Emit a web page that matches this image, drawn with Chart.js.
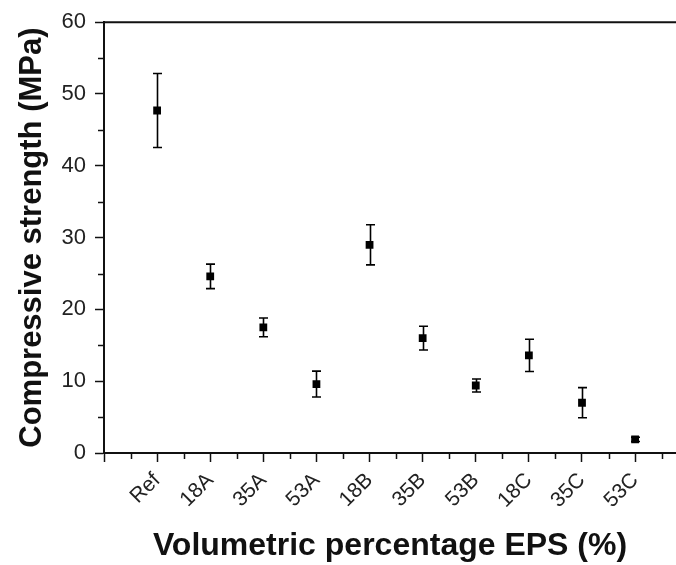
<!DOCTYPE html>
<html>
<head>
<meta charset="utf-8">
<script src="https://cdn.jsdelivr.net/npm/chart.js@4.4.1/dist/chart.umd.min.js"></script>
<style>
  html, body { margin: 0; padding: 0; background: #fff; }
  #wrap { width: 676px; height: 565px; }
</style>
</head>
<body>
<div id="wrap"><canvas id="strengthChart" width="676" height="565"></canvas></div>
<script>
// mixes along the x axis, mean strength and error (MPa)
var mixes = ["Ref", "18A", "35A", "53A", "18B", "35B", "53B", "18C", "35C", "53C"];
var strength = [47.7, 24.6, 17.5, 9.6, 29.0, 16.0, 9.4, 13.6, 7.0, 1.9];
var strengthErr = [5.15, 1.7, 1.3, 1.8, 2.8, 1.65, 0.9, 2.25, 2.1, 0.3];
var yTicks = [0, 10, 20, 30, 40, 50, 60];

var FONT = "'Liberation Sans', Arial, sans-serif";

var points = strength.map(function (v, i) {
  return { x: i + 1, y: v };
});

// vertical error bars with caps, drawn under the markers
var errorBars = {
  id: "errorBars",
  beforeDatasetsDraw: function (chart) {
    var ctx = chart.ctx;
    var xs = chart.scales.x;
    var ys = chart.scales.y;
    ctx.save();
    ctx.strokeStyle = "#000";
    ctx.lineWidth = 1.6;
    strength.forEach(function (v, i) {
      var px = Math.round(xs.getPixelForValue(i + 1)) + 0.5;
      var top = ys.getPixelForValue(v + strengthErr[i]);
      var bot = ys.getPixelForValue(v - strengthErr[i]);
      ctx.beginPath();
      ctx.moveTo(px, top);
      ctx.lineTo(px, bot);
      ctx.moveTo(px - 4.5, top);
      ctx.lineTo(px + 4.5, top);
      ctx.moveTo(px - 4.5, bot);
      ctx.lineTo(px + 4.5, bot);
      ctx.stroke();
    });
    ctx.restore();
  }
};

// top frame line and the minor ticks
var axisFrame = {
  id: "axisFrame",
  afterDraw: function (chart) {
    var ctx = chart.ctx;
    var area = chart.chartArea;
    var xs = chart.scales.x;
    var ys = chart.scales.y;
    ctx.save();
    ctx.strokeStyle = "#111";
    ctx.lineWidth = 2;
    ctx.beginPath();
    ctx.moveTo(area.left, area.top);
    ctx.lineTo(area.right, area.top);
    ctx.stroke();

    ctx.lineWidth = 1.5;
    ctx.beginPath();
    for (var v = yTicks[0] + 5; v < yTicks[yTicks.length - 1]; v += 10) {
      var py = Math.round(ys.getPixelForValue(v)) + 0.5;
      ctx.moveTo(area.left, py);
      ctx.lineTo(area.left - 6, py);
    }
    for (var k = 0.5; k < xs.max; k += 1) {
      var px = Math.round(xs.getPixelForValue(k)) + 0.5;
      ctx.moveTo(px, area.bottom);
      ctx.lineTo(px, area.bottom + 6);
    }
    ctx.stroke();
    ctx.restore();
  }
};

var ctx = document.getElementById("strengthChart").getContext("2d");
var chart = new Chart(ctx, {
  type: "scatter",
  data: {
    datasets: [
      {
        label: "Compressive strength",
        data: points,
        pointStyle: "rect",
        pointRadius: 5.5,
        pointHoverRadius: 5.5,
        backgroundColor: "#000",
        borderColor: "#000",
        borderWidth: 0,
        showLine: false
      }
    ]
  },
  options: {
    responsive: false,
    animation: false,
    devicePixelRatio: 1,
    layout: { autoPadding: false, padding: { top: 22, right: 0, bottom: 0, left: 0 } },
    plugins: {
      legend: { display: false },
      tooltip: { enabled: false }
    },
    scales: {
      x: {
        type: "linear",
        min: 0,
        max: 10.77,
        afterBuildTicks: function (scale) {
          scale.ticks = scale.ticks.filter(function (t) {
            return Number.isInteger(t.value);
          });
        },
        afterFit: function (scale) {
          scale.height = 112;
          scale.paddingLeft = 0;
          scale.paddingRight = 0;
        },
        ticks: {
          stepSize: 1,
          autoSkip: false,
          maxRotation: 45,
          minRotation: 45,
          padding: 6,
          color: "#222",
          font: { family: FONT, size: 21 },
          callback: function (value) {
            return mixes[value - 1] || "";
          }
        },
        grid: {
          drawOnChartArea: false,
          drawTicks: true,
          tickLength: 9,
          tickWidth: 1.5,
          tickColor: "#111"
        },
        border: { display: true, color: "#111", width: 2 },
        title: {
          display: true,
          text: "Volumetric percentage EPS (%)",
          color: "#111",
          font: { family: FONT, size: 32, weight: "bold", lineHeight: 1.2 },
          padding: { top: 0, bottom: 0 }
        }
      },
      y: {
        min: yTicks[0],
        max: yTicks[yTicks.length - 1],
        afterFit: function (scale) {
          scale.width = 104;
        },
        ticks: {
          stepSize: 10,
          padding: 9,
          color: "#222",
          font: { family: FONT, size: 22 }
        },
        grid: {
          drawOnChartArea: false,
          drawTicks: true,
          tickLength: 9,
          tickWidth: 1.5,
          tickColor: "#111"
        },
        border: { display: true, color: "#111", width: 2 },
        title: {
          display: true,
          text: "Compressive strength (MPa)",
          color: "#111",
          font: { family: FONT, size: 31, weight: "bold", lineHeight: 1.2 },
          padding: { top: 14, bottom: 0 }
        }
      }
    }
  },
  plugins: [errorBars, axisFrame]
});
</script>
</body>
</html>
